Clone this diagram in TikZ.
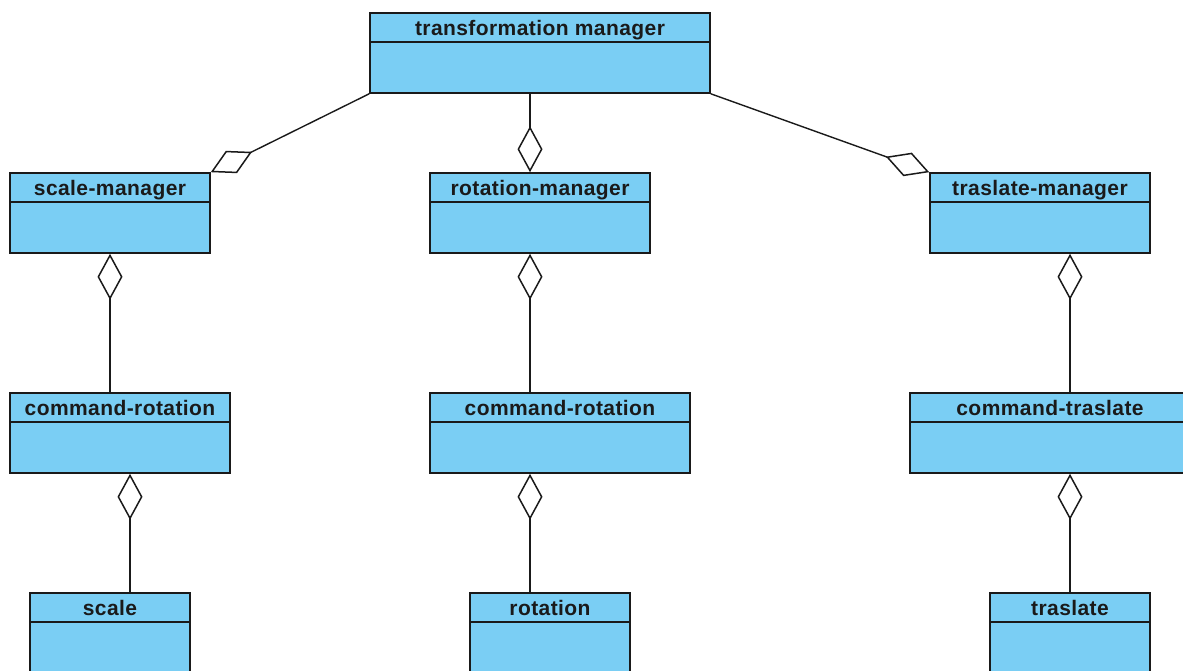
\documentclass[tikz,border=0pt]{standalone}
\usepackage{fontspec}
\setmainfont{Liberation Sans}
\newfontfamily\clsfont[LetterSpace=2]{Liberation Sans}
\usetikzlibrary{arrows.meta}
\definecolor{clsfill}{HTML}{7ACEF4}
\definecolor{ink}{HTML}{1A1A1A}
\tikzset{
  cls/.style={draw=ink, fill=clsfill, line width=1.6pt, rectangle, minimum height=80pt, inner sep=0pt, anchor=center},
  ttl/.style={font=\clsfont\bfseries\fontsize{21}{24}\selectfont, text=ink, inner sep=0pt, anchor=base},
  divider/.style={draw=ink, line width=1.6pt},
  agg/.style={draw=ink, line width=1.4pt},
  dia/.tip={Diamond[fill=white, length=46pt, width=25pt, line width=1.5pt]}
}
\newcommand{\umlbox}[5]{% name, x, y, width, title
  \node[cls, minimum width=#4pt] (#1) at (#2,#3) {};
  \draw[divider] ([yshift=-30pt]#1.north west) -- ([yshift=-30pt]#1.north east);
  \node[ttl] (#1-title) at ([yshift=-23pt]#1.north) {#5};
}
\begin{document}
\begin{tikzpicture}[x=1pt, y=-1pt]
\useasboundingbox (0,0) rectangle (1183,671);
\fill[white] (0,0) rectangle (1183,671);

\umlbox{tm}{540}{53}{340}{transformation manager}
\umlbox{sm}{110}{213}{200}{scale-manager}
\umlbox{rm}{540}{213}{220}{rotation-manager}
\umlbox{tmgr}{1040}{213}{220}{traslate-manager}
\umlbox{cra}{120}{433}{220}{command-rotation}
\umlbox{crb}{560}{433}{260}{command-rotation}
\umlbox{ct}{1050}{433}{280}{command-traslate}
\umlbox{sc}{110}{633}{160}{scale}
\umlbox{rot}{550}{633}{160}{rotation}
\umlbox{tr}{1070}{633}{160}{traslate}

% top level: diamonds at the child end
\draw[agg, -dia] (tm.south west) -- (sm.north east);
\draw[agg, -dia] ([xshift=-10pt]tm.south) -- ([xshift=-10pt]rm.north);
\draw[agg, -dia] (tm.south east) -- (tmgr.north west);

% lower levels: diamonds at the parent end
\draw[agg, dia-] (sm.south) -- (sm.south |- cra.north);
\draw[agg, dia-] ([xshift=-10pt]rm.south) -- ([xshift=-30pt]crb.north);
\draw[agg, dia-] ([xshift=30pt]tmgr.south) -- ([xshift=20pt]ct.north);
\draw[agg, dia-] ([xshift=10pt]cra.south) -- ([xshift=20pt]sc.north);
\draw[agg, dia-] ([xshift=-30pt]crb.south) -- ([xshift=-20pt]rot.north);
\draw[agg, dia-] ([xshift=20pt]ct.south) -- (tr.north);
\end{tikzpicture}
\end{document}
